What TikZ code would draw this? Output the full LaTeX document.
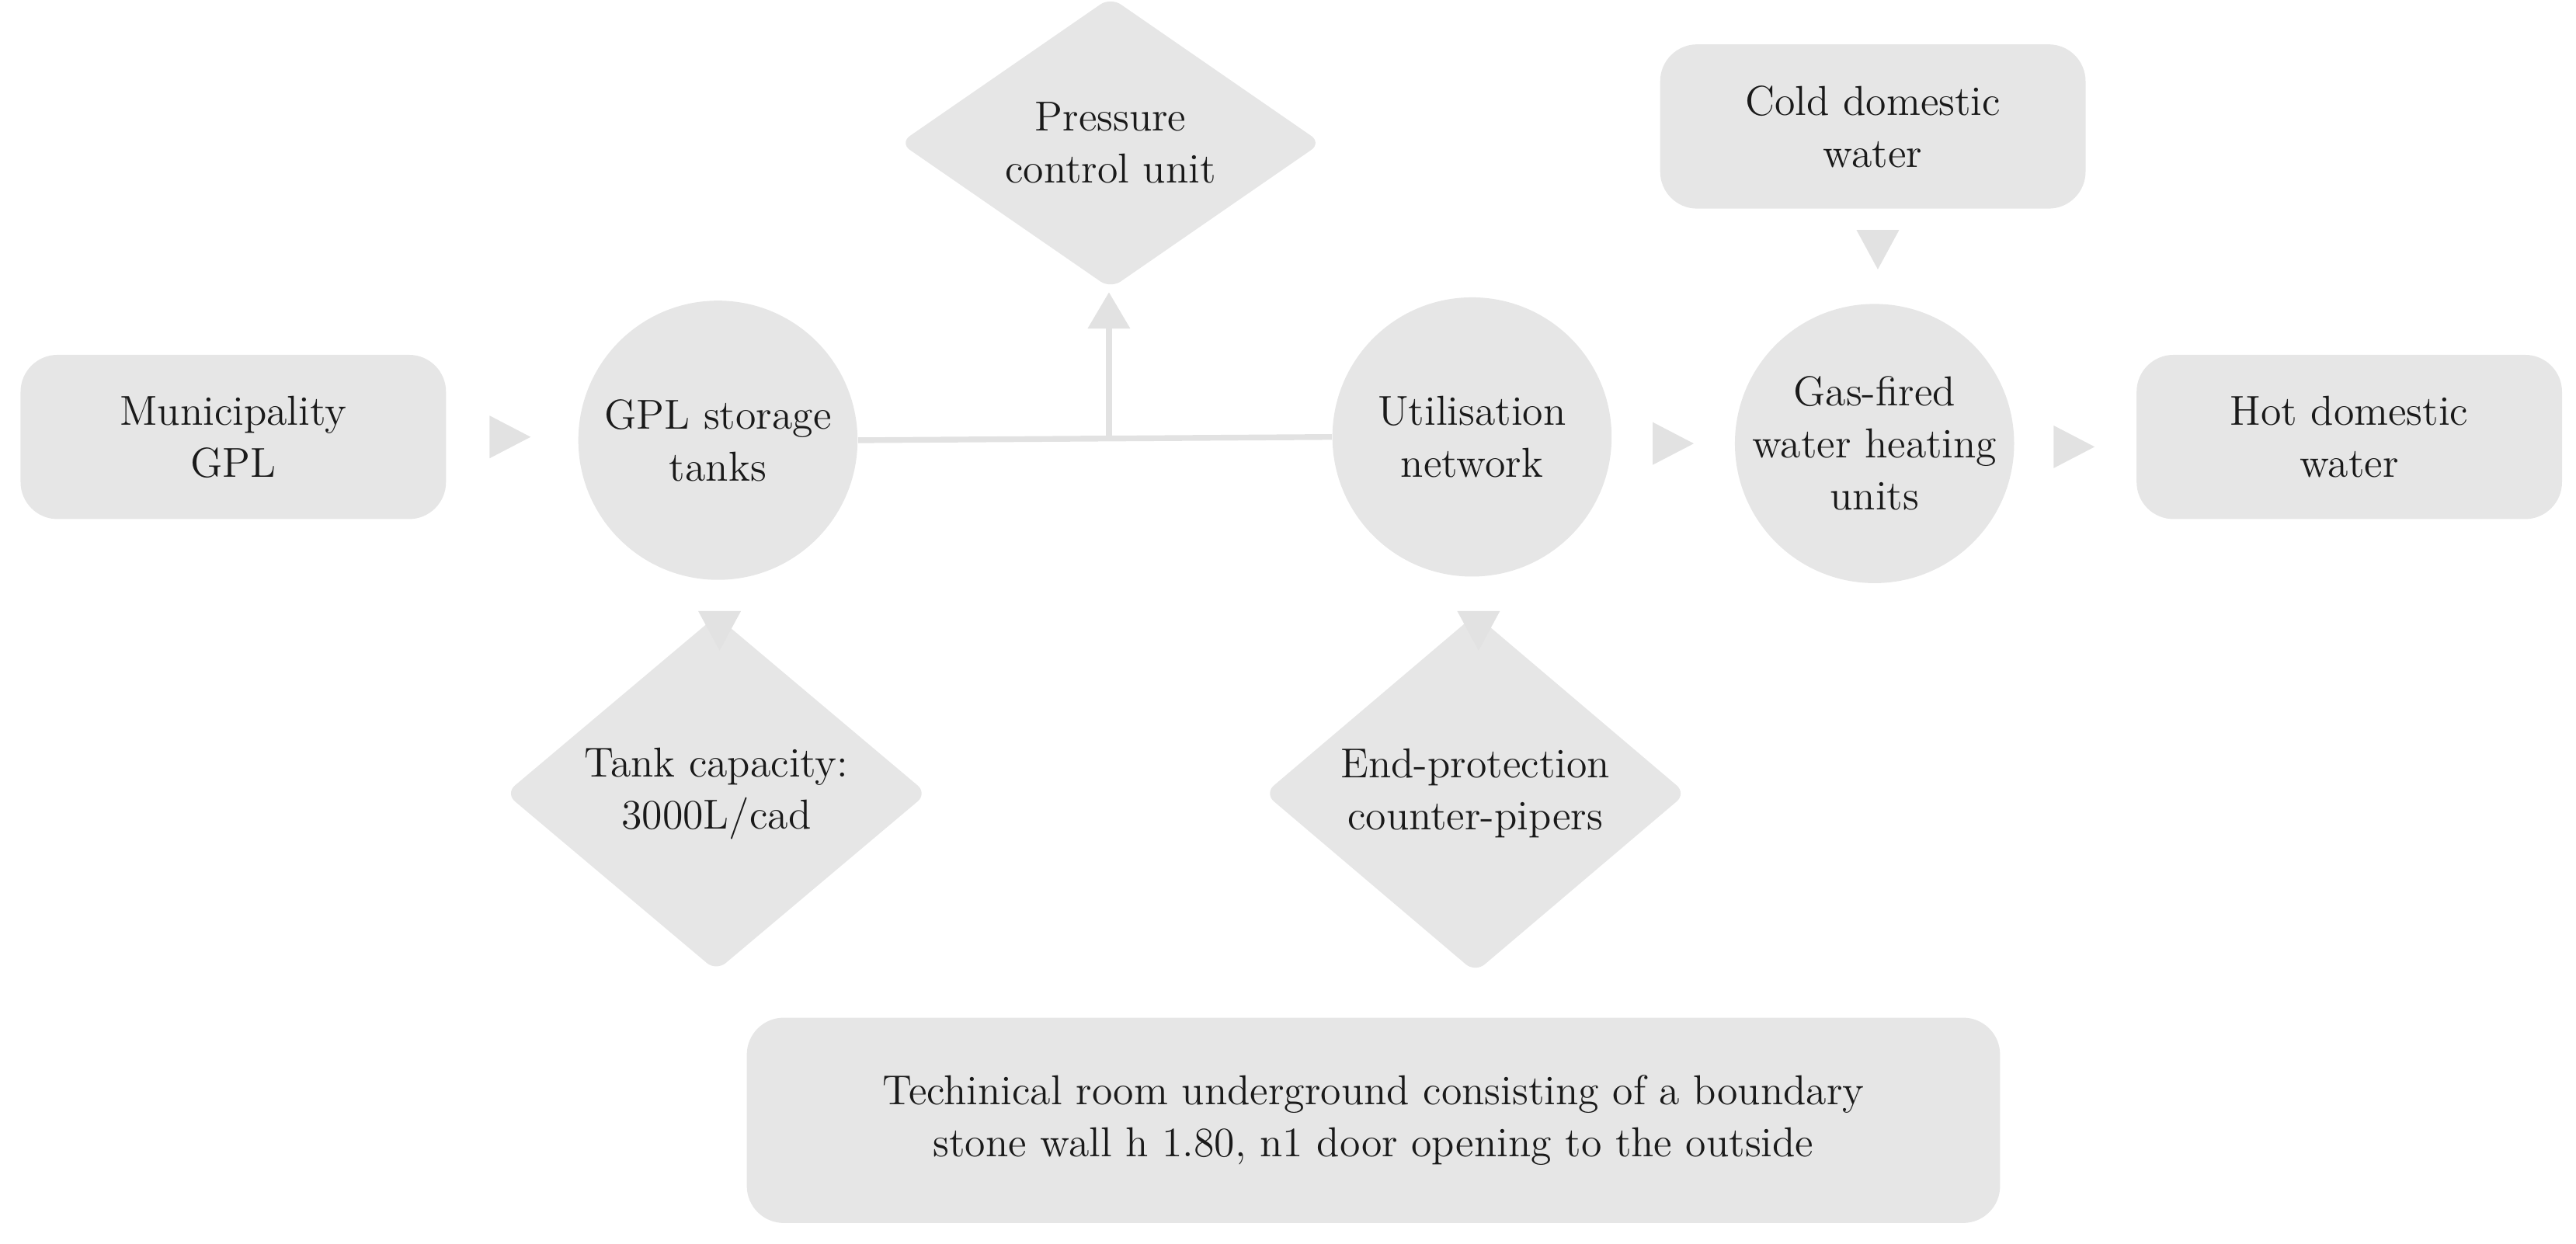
\documentclass[tikz,border=0pt]{standalone}
\usetikzlibrary{shapes.geometric}
\definecolor{boxg}{HTML}{E6E6E6}
\definecolor{arrg}{HTML}{E2E2E2}
\definecolor{txt}{HTML}{1A1A1A}
\begin{document}
\begin{tikzpicture}[x=0.02cm,y=-0.02cm,
  every node/.style={text=txt,font=\fontsize{14.5}{18}\selectfont,align=center},
  box/.style={fill=boxg,rounded corners=0.45cm,minimum width=5.18cm,minimum height=2cm,inner sep=0pt},
  circ/.style={circle,fill=boxg,minimum size=3.4cm,inner sep=0pt},
  dia/.style={diamond,fill=boxg,rounded corners=0.15cm,minimum width=5.14cm,minimum height=3.04cm,inner sep=0pt},
  line/.style={draw=arrg,line width=0.07cm},
  tr/.style={fill=arrg}]
\useasboundingbox (0,0) rectangle (1568,757);
\node[box] (mun) at (142,266) {Municipality\\GPL};
\node[circ] (gpl) at (437,268) {GPL storage\\tanks};
\node[dia] (pcu) at (676,87) {Pressure\\control unit};
\node[circ] (uti) at (896,266) {Utilisation\\network};
\node[circ] (gas) at (1141,270) {Gas-fired\\water heating\\units};
\node[box] (cold) at (1140,77) {Cold domestic\\water};
\node[box] (hot) at (1430,266) {Hot domestic\\water};
\node[dia] (tank) at (436,483) {Tank capacity:\\3000L/cad};
\node[dia] (end) at (898,483) {End-protection\\counter-pipers};
\node[box,minimum width=15.26cm,minimum height=2.5cm] (room) at (836,682) {Techinical room underground consisting of a boundary\\stone wall h 1.80, n1 door opening to the outside};
\coordinate (j) at (675,268);
\coordinate (jt) at (675,200);
\draw[line] (gpl.east) -- (uti.west);
\draw[line] (j) -- (jt);
% triangles
\fill[tr] (298,253) -- (323,266) -- (298,279) -- cycle;
\fill[tr] (662,200) -- (675,178) -- (688,200) -- cycle;
\fill[tr] (1006,257) -- (1031,270) -- (1006,283) -- cycle;
\fill[tr] (1250,259) -- (1275,272) -- (1250,285) -- cycle;
\fill[tr] (1130,140) -- (1156,140) -- (1143,164) -- cycle;
\fill[tr] (425,372) -- (451,372) -- (438,396) -- cycle;
\fill[tr] (887,372) -- (913,372) -- (900,396) -- cycle;
\end{tikzpicture}
\end{document}
